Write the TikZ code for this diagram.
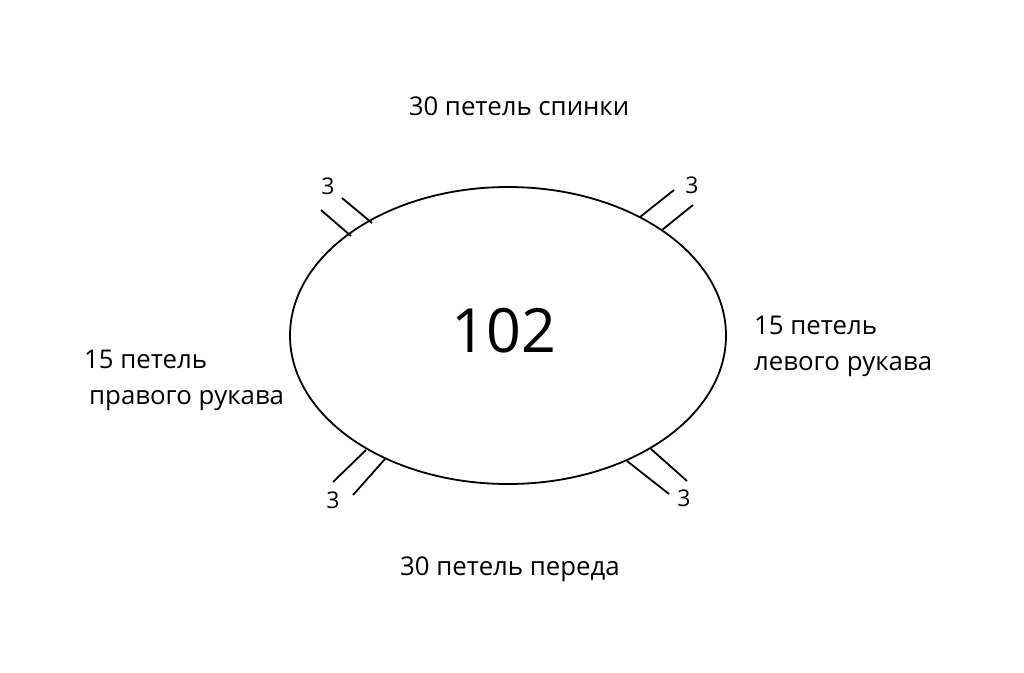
\documentclass[tikz,border=0pt]{standalone}
\usepackage{fontspec}
\setmainfont{Open Sans}
\usetikzlibrary{shapes.geometric}
\begin{document}
\begin{tikzpicture}[x=1pt,y=-1pt,
  lbl/.style={inner sep=0pt,font=\fontsize{25.8}{36}\selectfont},
  num/.style={inner sep=0pt,font=\fontsize{23}{28}\selectfont},
  big/.style={inner sep=0pt,font=\fontsize{61}{70}\selectfont},
  tick/.style={line width=1.8pt},
  oval/.style={line width=1.8pt,draw=black}]
\useasboundingbox[fill=white] (0,0) rectangle (1024,672);
\node[oval,ellipse,minimum width=436pt,minimum height=297pt,inner sep=0pt] (ring) at (508,335.5) {};
\node[big,anchor=base] (total) at (504,352) {102};
\node[lbl,anchor=base] (back) at (519,115) {30 петель спинки};
\node[lbl,anchor=base] (front) at (510,575) {30 петель переда};
\node[lbl,anchor=base west] (left1) at (754,334) {15 петель};
\node[lbl,anchor=base west] (left2) at (754,370) {левого рукава};
\node[lbl,anchor=base west] (right1) at (84,368) {15 петель};
\node[lbl,anchor=base west] (right2) at (89,404) {правого рукава};
% tick coordinates
\coordinate (a1) at (321,210); \coordinate (a2) at (351,236);
\coordinate (b1) at (342,198); \coordinate (b2) at (372,223);
\coordinate (c1) at (640,217); \coordinate (c2) at (674,190);
\coordinate (d1) at (662,230); \coordinate (d2) at (693,205);
\coordinate (e1) at (366,450); \coordinate (e2) at (333,482);
\coordinate (f1) at (385,459); \coordinate (f2) at (353,495);
\coordinate (g1) at (627,461); \coordinate (g2) at (669,494);
\coordinate (h1) at (651,449); \coordinate (h2) at (687,481);
\draw[tick] (a1) -- (a2); \draw[tick] (b1) -- (b2);
\draw[tick] (c1) -- (c2); \draw[tick] (d1) -- (d2);
\draw[tick] (e1) -- (e2); \draw[tick] (f1) -- (f2);
\draw[tick] (g1) -- (g2); \draw[tick] (h1) -- (h2);
\node[num] (n1) at (328,186) {3};
\node[num] (n2) at (692,185) {3};
\node[num] (n3) at (333,500) {3};
\node[num] (n4) at (684,498) {3};
\end{tikzpicture}
\end{document}
